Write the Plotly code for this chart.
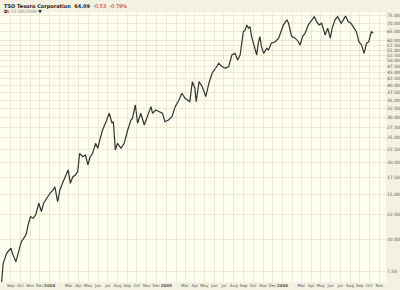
import plotly.graph_objects as go
import math

dates = [
    "2003-08-03", "2003-08-08", "2003-08-19", "2003-09-01", "2003-09-08", "2003-09-17", "2003-09-24",
    "2003-10-04", "2003-10-15", "2003-10-20", "2003-10-25", "2003-11-02", "2003-11-10", "2003-11-18",
    "2003-11-28", "2003-12-06", "2003-12-13", "2003-12-22", "2004-01-02", "2004-01-12", "2004-01-17",
    "2004-01-26", "2004-02-02", "2004-02-12", "2004-02-23", "2004-02-28", "2004-03-06", "2004-03-14",
    "2004-03-22", "2004-03-29", "2004-04-04", "2004-04-14", "2004-04-22", "2004-04-30", "2004-05-07",
    "2004-05-15", "2004-05-24", "2004-05-31", "2004-06-05", "2004-06-15", "2004-06-26", "2004-07-06",
    "2004-07-15", "2004-07-19", "2004-07-25", "2004-08-01", "2004-08-12", "2004-08-22", "2004-09-02",
    "2004-09-12", "2004-09-17", "2004-09-26", "2004-10-03", "2004-10-13", "2004-10-24", "2004-11-03",
    "2004-11-14", "2004-11-19", "2004-11-29", "2004-12-10", "2004-12-20", "2004-12-28", "2005-01-08",
    "2005-01-19", "2005-01-29", "2005-02-10", "2005-02-19", "2005-03-01", "2005-03-08", "2005-03-16",
    "2005-03-24", "2005-04-01", "2005-04-05", "2005-04-14", "2005-04-24", "2005-05-05", "2005-05-15",
    "2005-05-25", "2005-06-05", "2005-06-15", "2005-06-25", "2005-07-06", "2005-07-16", "2005-07-26",
    "2005-08-05", "2005-08-13", "2005-08-21", "2005-08-26", "2005-08-31", "2005-09-06", "2005-09-11",
    "2005-09-16", "2005-09-21", "2005-09-26", "2005-10-01", "2005-10-12", "2005-10-17", "2005-10-22",
    "2005-10-27", "2005-11-03", "2005-11-13", "2005-11-18", "2005-11-27", "2005-12-09", "2005-12-20",
    "2005-12-28", "2006-01-04", "2006-01-15", "2006-01-20", "2006-01-30", "2006-02-10", "2006-02-20",
    "2006-02-25", "2006-03-05", "2006-03-13", "2006-03-23", "2006-04-03", "2006-04-11", "2006-04-18",
    "2006-04-26", "2006-05-04", "2006-05-15", "2006-05-23", "2006-05-31", "2006-06-06", "2006-06-15",
    "2006-06-23", "2006-07-04", "2006-07-11", "2006-07-18", "2006-07-26", "2006-08-04", "2006-08-11",
    "2006-08-21", "2006-08-29", "2006-09-06", "2006-09-14", "2006-09-22", "2006-09-29", "2006-10-07",
    "2006-10-13",
]
close = [
    6.8, 8.06, 8.82, 9.23, 8.68, 8.18, 8.82,
    9.79, 10.24, 10.56, 11.38, 12.26, 12.09, 12.46,
    13.84, 12.83, 13.84, 14.47, 15.14, 15.6, 16.07,
    14.04, 15.6, 16.81, 18.13, 18.68, 16.57, 17.59,
    17.86, 18.4, 21.7, 21.06, 21.38, 19.54, 21.06,
    21.7, 23.75, 22.71, 24.1, 26.78, 28.86, 31.13,
    28.46, 28.86, 22.37, 23.75, 22.71, 23.75, 26.78,
    29.3, 29.77, 33.54, 28.46, 31.13, 28.01, 30.19,
    33.04, 31.13, 32.07, 31.58, 31.13, 28.86, 29.3,
    30.19, 33.04, 35.1, 37.27, 35.64, 35.1, 34.55,
    41.38, 39.0, 34.55, 41.38, 39.55, 36.15, 40.8,
    44.63, 46.7, 48.84, 47.4, 46.7, 47.4, 52.6,
    53.4, 50.3, 52.6, 60.3, 64.9, 65.9, 69.0,
    67.0, 67.9, 62.1, 59.3, 52.6, 58.5, 62.1,
    56.7, 53.4, 55.9, 55.1, 58.5, 59.3, 61.2,
    64.9, 69.0, 72.2, 70.0, 62.1, 61.2, 59.3,
    57.6, 62.1, 64.0, 69.0, 72.2, 74.3, 71.1,
    69.0, 70.0, 63.0, 67.0, 61.2, 67.0, 72.2,
    74.3, 70.0, 72.2, 74.8, 71.1, 70.0, 67.9,
    64.9, 59.3, 57.6, 53.4, 58.5, 59.3, 64.9,
    64.09,
]

y_ticks = [75, 70, 65, 60, 57.5, 55, 52.5, 50, 47.5, 45, 42.5, 40, 37.5, 35,
           32.5, 30, 27.5, 25, 22.5, 20, 17.5, 15, 12.5, 10, 7.5]
y_ticktext = ["%.2f" % v for v in y_ticks]

month_ticks = [
    "2003-09-01", "2003-10-01", "2003-11-01", "2003-12-01",
    "2004-01-01", "2004-02-01", "2004-03-01", "2004-04-01", "2004-05-01", "2004-06-01",
    "2004-07-01", "2004-08-01", "2004-09-01", "2004-10-01", "2004-11-01", "2004-12-01",
    "2005-01-01", "2005-02-01", "2005-03-01", "2005-04-01", "2005-05-01", "2005-06-01",
    "2005-07-01", "2005-08-01", "2005-09-01", "2005-10-01", "2005-11-01", "2005-12-01",
    "2006-01-01", "2006-02-01", "2006-03-01", "2006-04-01", "2006-05-01", "2006-06-01",
    "2006-07-01", "2006-08-01", "2006-09-01", "2006-10-01", "2006-11-01",
]
month_text = [
    "Sep", "Oct", "Nov", "Dec",
    "<b>2004</b>", "", "Mar", "Apr", "May", "Jun", "Jul", "Aug", "Sep", "Oct", "Nov", "Dec",
    "<b>2005</b>", "", "Mar", "Apr", "May", "Jun", "Jul", "Aug", "Sep", "Oct", "Nov", "Dec",
    "<b>2006</b>", "", "Mar", "Apr", "May", "Jun", "Jul", "Aug", "Sep", "Oct", "Nov",
]

fig = go.Figure()
fig.add_trace(go.Scatter(
    x=dates, y=close, mode="lines",
    line=dict(color="#333333", width=1.2),
    hoverinfo="skip", showlegend=False,
))

grid = "#ECE9D2"
fig.update_layout(
    width=400, height=290,
    margin=dict(l=0, r=12, t=12, b=8),
    paper_bgcolor="#F3F1E2",
    plot_bgcolor="#FEFEF0",
    font=dict(family="DejaVu Sans", size=4, color="#555"),
    xaxis=dict(
        type="date",
        range=["2003-07-29", "2006-11-22"],
        tickmode="array", tickvals=month_ticks, ticktext=month_text,
        tickangle=0,
        showgrid=True, gridcolor=grid, gridwidth=1,
        ticks="", tickfont=dict(family="DejaVu Sans", size=4, color="#555"),
        zeroline=False, showline=False, ticklabelstandoff=0,
    ),
    yaxis=dict(
        type="log", side="right",
        range=[math.log10(6.81), math.log10(77.5)],
        tickmode="array", tickvals=y_ticks, ticktext=y_ticktext,
        showgrid=True, gridcolor=grid, gridwidth=1,
        ticks="", tickfont=dict(size=4.5, color="#555"),
        zeroline=False, showline=False,
    ),
    annotations=[
        dict(xref="paper", yref="paper", x=0.005, y=1.0, yshift=11,
             xanchor="left", yanchor="top", showarrow=False,
             text="<b>TSO Tesoro Corporation  64.09</b>  <span style='color:#d00000'>-0.53  -0.79%</span>",
             font=dict(size=5, color="#222")),
        dict(xref="paper", yref="paper", x=0.005, y=1.0, yshift=5,
             xanchor="left", yanchor="top", showarrow=False,
             text="<b>D:</b> <span style='color:#888'>11/30/2006</span> ▼",
             font=dict(size=4.5, color="#222")),
    ],
)

fig.write_html("out.html")
